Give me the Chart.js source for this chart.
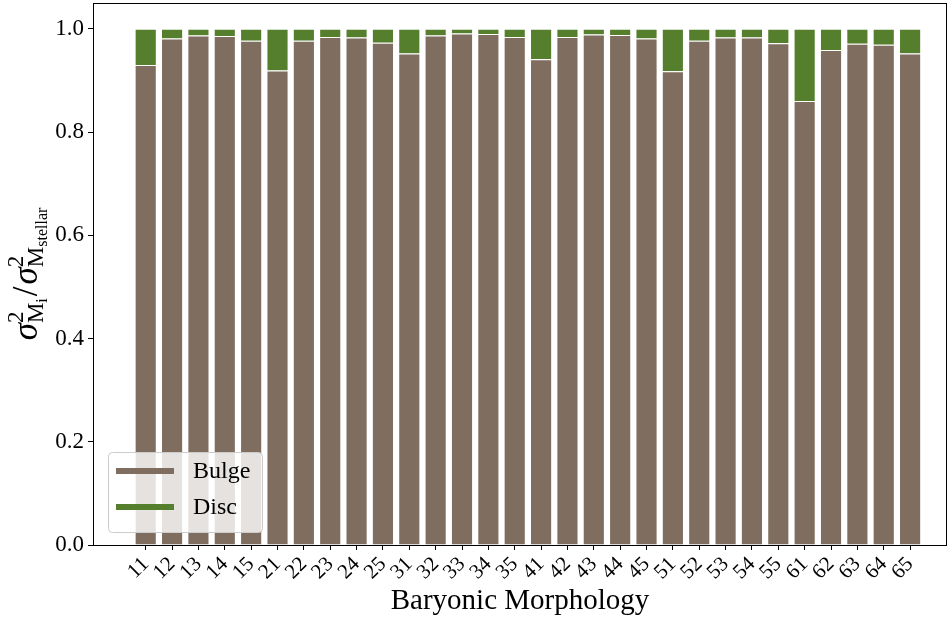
<!DOCTYPE html>
<html lang="en">
<head>
    <meta charset="UTF-8">
    <title>Baryonic Morphology</title>
    <script src="https://cdn.jsdelivr.net/npm/chart.js"></script>
    <style>
        body { margin: 0; background: #fff; }
        canvas { display: block; }
    </style>
</head>
<body>
    <canvas id="morphChart" width="949" height="619"></canvas>
<script>
// datos
const categories = ['11','12','13','14','15','21','22','23','24','25','31','32','33','34','35',
                    '41','42','43','44','45','51','52','53','54','55','61','62','63','64','65'];
const bulge = [0.930,0.981,0.987,0.986,0.977,0.919,0.977,0.984,0.983,0.973,
               0.952,0.987,0.991,0.990,0.984,0.941,0.984,0.989,0.988,0.981,
               0.918,0.977,0.983,0.983,0.972,0.860,0.959,0.971,0.969,0.952];
const disc  = [0.070,0.019,0.013,0.014,0.023,0.081,0.023,0.016,0.017,0.027,
               0.048,0.013,0.009,0.010,0.016,0.059,0.016,0.011,0.012,0.019,
               0.082,0.023,0.017,0.017,0.028,0.140,0.041,0.029,0.031,0.048];
const yTicks = [0, 0.2, 0.4, 0.6, 0.8, 1.0];

const SERIF = "'Liberation Serif', 'DejaVu Serif', serif";
const BROWN = '#7f6d5f';
const GREEN = '#557f2d';

// marco completo (las cuatro lineas del eje)
const framePlugin = {
    id: 'frame',
    afterDraw(chart) {
        const a = chart.chartArea, ctx = chart.ctx;
        ctx.save();
        ctx.strokeStyle = '#000';
        ctx.lineWidth = 1;
        ctx.strokeRect(a.left + 0.5, a.top + 0.5, a.right - a.left - 1, a.bottom - a.top);
        ctx.restore();
    }
};

// leyenda dentro del area, abajo a la izquierda
const legendPlugin = {
    id: 'innerLegend',
    afterDraw(chart) {
        const ctx = chart.ctx;
        const x = 108, y = 452, w = 154, h = 80;
        ctx.save();
        ctx.fillStyle = 'rgba(255,255,255,0.8)';
        ctx.strokeStyle = '#cccccc';
        ctx.lineWidth = 1;
        ctx.beginPath();
        ctx.roundRect(x + 0.5, y + 0.5, w, h, 4);
        ctx.fill();
        ctx.stroke();
        ctx.font = '24px ' + SERIF;
        ctx.textBaseline = 'middle';
        chart.data.datasets.forEach((ds, i) => {
            const ly = 471 + i * 36;
            ctx.strokeStyle = ds.backgroundColor;
            ctx.lineWidth = 6;
            ctx.beginPath();
            ctx.moveTo(116, ly);
            ctx.lineTo(174, ly);
            ctx.stroke();
            ctx.fillStyle = '#000';
            ctx.fillText(ds.label, 193, ly + 1);
        });
        ctx.restore();
    }
};

// titulo del eje y con subindices
const yTitlePlugin = {
    id: 'yTitle',
    afterDraw(chart) {
        const ctx = chart.ctx;
        const a = chart.chartArea;
        const big = 35, sup = 23, sub2 = 16;
        const parts = [
            { t: 'σ', f: 'italic ' + big + 'px ' + SERIF, dy: 0 },
            { t: '2', f: sup + 'px ' + SERIF, dy: -14, stack: 'M' },
            { t: 'i', f: sub2 + 'px ' + SERIF, dy: 10 },
            { t: '/', f: big + 'px ' + SERIF, dy: 0, gap: 2 },
            { t: 'σ', f: 'italic ' + big + 'px ' + SERIF, dy: 0 },
            { t: '2', f: sup + 'px ' + SERIF, dy: -14, stack: 'M' },
            { t: 'stellar', f: sub2 + 'px ' + SERIF, dy: 10 }
        ];
        ctx.save();
        let total = 0;
        parts.forEach(p => {
            ctx.font = p.f;
            let wd = ctx.measureText(p.t).width;
            if (p.stack) {
                wd = Math.max(wd, ctx.measureText(p.stack).width);
            }
            p.w = wd + (p.gap || 0) * 2;
            total += p.w;
        });
        ctx.translate(37, (a.top + a.bottom) / 2);
        ctx.rotate(-Math.PI / 2);
        ctx.fillStyle = '#000';
        ctx.textBaseline = 'alphabetic';
        let cx = -total / 2;
        parts.forEach(p => {
            ctx.font = p.f;
            const px = cx + (p.gap || 0);
            ctx.fillText(p.t, px, p.dy);
            if (p.stack) ctx.fillText(p.stack, px, 6);
            cx += p.w;
        });
        ctx.restore();
    }
};

const ctx = document.getElementById('morphChart').getContext('2d');
const morphChart = new Chart(ctx, {
    type: 'bar',
    data: {
        datasets: [
            {
                label: 'Bulge',
                data: bulge.map((v, i) => ({ x: i, y: v })),
                backgroundColor: BROWN,
                borderColor: '#ffffff',
                borderWidth: 1
            },
            {
                label: 'Disc',
                data: disc.map((v, i) => ({ x: i, y: v })),
                backgroundColor: GREEN,
                borderColor: '#ffffff',
                borderWidth: 1
            }
        ]
    },
    options: {
        responsive: false,
        animation: false,
        categoryPercentage: 0.84,
        barPercentage: 1.0,
        layout: { padding: { top: 3, right: 2, left: 0, bottom: 0 } },
        plugins: {
            legend: { display: false },
            tooltip: { enabled: false }
        },
        scales: {
            x: {
                type: 'linear',
                stacked: true,
                min: -2,
                max: 30.4,
                offset: false,
                border: { display: false },
                grid: { drawOnChartArea: false, drawTicks: true, tickLength: 5, color: '#000', offset: false },
                afterBuildTicks: (scale) => { scale.ticks = categories.map((c, i) => ({ value: i })); },
                afterFit: (scale) => {
                    scale.height = 74;
                    scale.paddingLeft = 0; scale.paddingRight = 0;
                },
                ticks: {
                    autoSkip: false,
                    minRotation: 45,
                    maxRotation: 45,
                    padding: 2,
                    color: '#000',
                    font: { family: SERIF, size: 21 },
                    callback: (v) => categories[v]
                },
                title: {
                    display: true,
                    text: 'Baryonic Morphology',
                    color: '#000',
                    font: { family: SERIF, size: 29 },
                    padding: { top: 0, bottom: 0 }
                }
            },
            y: {
                stacked: true,
                min: 0,
                max: 1.05,
                border: { display: false },
                grid: { drawOnChartArea: false, drawTicks: true, tickLength: 5, color: '#000' },
                afterBuildTicks: (scale) => { scale.ticks = yTicks.map(v => ({ value: v })); },
                afterFit: (scale) => {
                    scale.width = 93;
                    scale.paddingTop = 0; scale.paddingBottom = 0;
                },
                ticks: {
                    padding: 4,
                    color: '#000',
                    font: { family: SERIF, size: 23 },
                    callback: (v) => v.toFixed(1)
                }
            }
        }
    },
    plugins: [framePlugin, legendPlugin, yTitlePlugin]
});
</script>
</body>
</html>
